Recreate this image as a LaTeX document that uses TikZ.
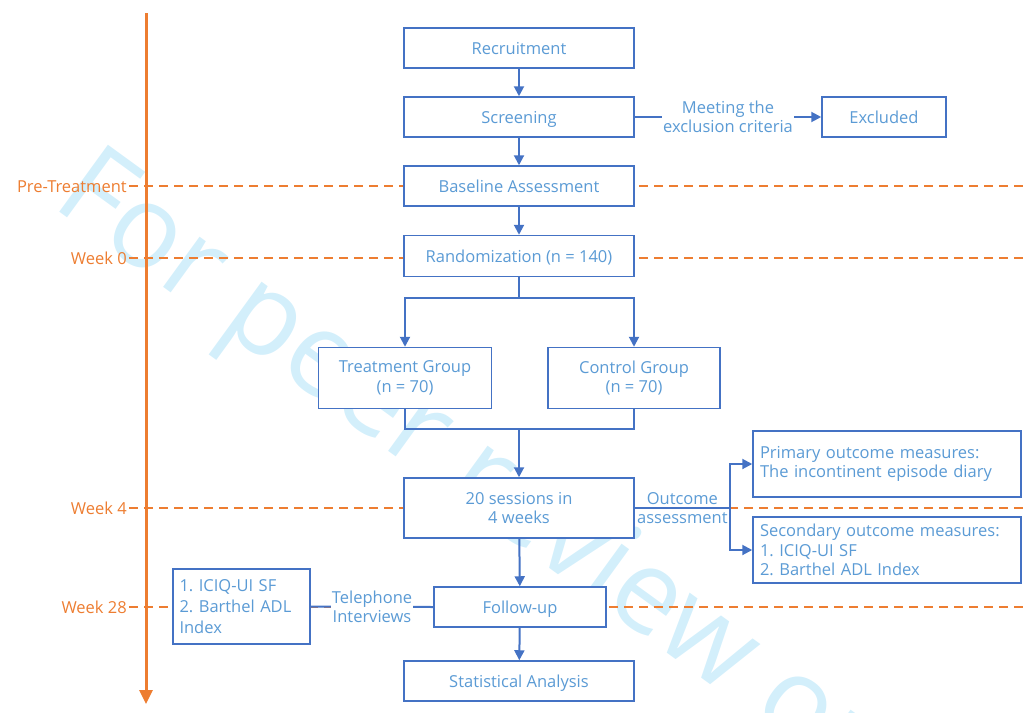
\documentclass[tikz,border=0pt]{standalone}
\usepackage{fontspec}
\setmainfont{Open Sans}
\frenchspacing
\usetikzlibrary{arrows.meta}
\definecolor{boxblue}{HTML}{4472C4}
\definecolor{txtblue}{HTML}{5B9BD5}
\definecolor{tlorange}{HTML}{ED7D31}
\definecolor{wmcyan}{HTML}{D3EFFB}
\begin{document}
\begin{tikzpicture}[x=1pt,y=-1pt,
  txt/.style={font=\fontsize{16.5}{19.5}\selectfont},
  box/.style={txt, draw=boxblue, line width=1.5pt, fill=white, text=txtblue,
    align=center, inner sep=2pt},
  oneline/.style={text height=12pt, text depth=0pt},
  lbl/.style={txt, text=txtblue, align=center, inner sep=1pt},
  plain/.style={draw=boxblue, line width=2pt},
  conn/.style={plain, -{Triangle[length=10pt,width=10pt]}},
  tl/.style={txt, text=tlorange, inner sep=2pt, oneline},
  dashln/.style={draw=tlorange, line width=2.5pt, dash pattern=on 9pt off 6pt},
  axisln/.style={draw=tlorange, line width=3pt, -{Triangle[length=14pt,width=13pt]}},
]
\useasboundingbox (0,0) rectangle (1024,712);

% watermark, set behind the chart
\begin{scope}
\clip (0,0) rectangle (1024,712);
\node[wmcyan, anchor=base west, rotate=-36, inner sep=0pt,
  font=\fontsize{116}{130}\selectfont] (wm) at (50,205) {For peer review only};
\end{scope}

% time axis
\coordinate (axtop) at (146,13);
\coordinate (axbot) at (146,704);
\draw[axisln] (axtop) -- (axbot);

% time marks
\node[tl, anchor=east] (lpre) at (129,186) {Pre-Treatment};
\node[tl, anchor=east] (lw0) at (129,258) {Week 0};
\node[tl, anchor=east] (lw4) at (129,508) {Week 4};
\node[tl, anchor=east] (lw28) at (129,607) {Week 28};
\coordinate (rpre) at (1024,186);
\coordinate (rw0) at (1024,258);
\coordinate (rw4) at (1024,508);
\coordinate (rw28) at (1024,607);
\draw[dashln] (lpre.east) -- (rpre);
\draw[dashln] (lw0.east) -- (rw0);
\draw[dashln] (lw4.east) -- (rw4);
\draw[dashln] (lw28.east) -- (rw28);

% flow boxes
\node[box, oneline, minimum width=230pt, minimum height=40pt] (rec) at (519,48) {Recruitment};
\node[box, oneline, minimum width=230pt, minimum height=40pt] (scr) at (519,117) {Screening};
\node[box, oneline, minimum width=124pt, minimum height=40pt] (exc) at (884,117) {Excluded};
\node[box, oneline, minimum width=230pt, minimum height=40pt] (base) at (519,186) {Baseline Assessment};
\node[box, oneline, minimum width=230pt, minimum height=41pt] (rand) at (519,256) {Randomization (n = 140)};
\node[box, minimum width=173pt, minimum height=61pt] (trt) at (405,378) {Treatment Group\\(n = 70)};
\node[box, minimum width=172pt, minimum height=61pt] (ctl) at (634,378) {Control Group\\(n = 70)};
\node[box, minimum width=230pt, minimum height=60pt] (sess) at (519,508) {20 sessions in\\4 weeks};
\node[box, minimum width=268pt, minimum height=66pt, align=left, text width=254pt] (prim) at (887,464)
  {Primary outcome measures:\\The incontinent episode diary};
\node[box, minimum width=268pt, minimum height=66pt, align=left, text width=254pt] (sec) at (887,550)
  {Secondary outcome measures:\\1. ICIQ-UI SF\\2. Barthel ADL Index};
\node[box, oneline, minimum width=172pt, minimum height=40pt] (fol) at (520,607) {Follow-up};
\node[box, minimum width=137pt, minimum height=75pt, align=left, text width=124pt,
  font=\fontsize{16.5}{21}\selectfont] (lbox) at (241.5,606.5)
  {1. ICIQ-UI SF\\2. Barthel ADL\\Index};
\node[box, oneline, minimum width=230pt, minimum height=40pt] (stat) at (519,681) {Statistical Analysis};

% connectors
\draw[conn] (rec) -- (scr);
\draw[conn] (scr) -- (base);
\draw[conn] (base) -- (rand);
\draw[conn] (scr.east) -- node[lbl, fill=white] {Meeting the\\exclusion criteria} (exc.west);
\draw[conn] (rand.south) -- ++(0,21) -| (trt.north);
\draw[conn] (rand.south) -- ++(0,21) -| (ctl.north);
\coordinate (mrg) at (519,429);
\draw[plain] (trt.south) |- (mrg) -| (ctl.south);
\draw[conn] (mrg) -- (sess.north);
\coordinate (obr) at (730,508);
\draw[plain] (sess.east) -- node[lbl] {Outcome\\assessment} (obr);
\draw[conn] (obr) |- (prim.west);
\draw[conn] (obr) |- (sec.west);
\draw[conn] (sess) -- (fol);
\draw[conn] (fol) -- (stat);
\draw[plain] (lbox.east) -- node[lbl, fill=white] {Telephone\\Interviews} (fol.west);
\end{tikzpicture}
\end{document}
